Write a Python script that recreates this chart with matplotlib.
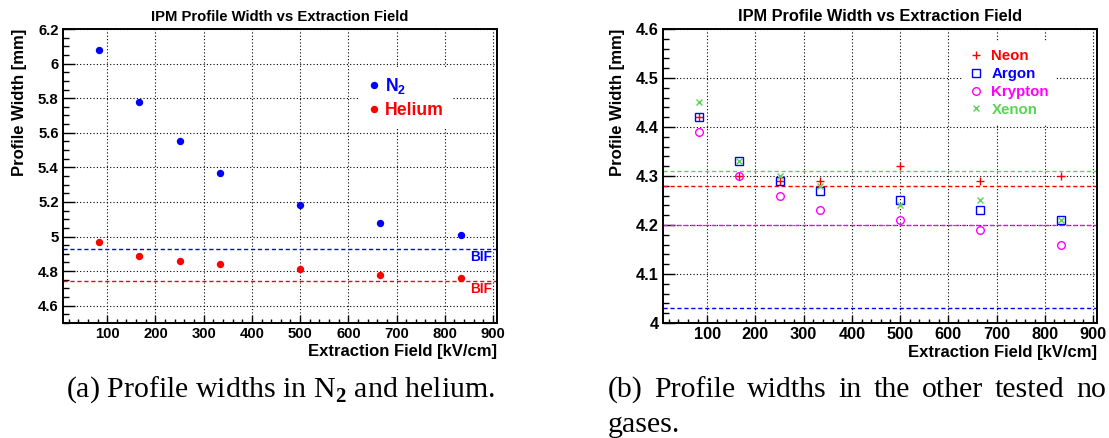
import numpy as np
import matplotlib.pyplot as plt
from matplotlib.ticker import MultipleLocator, FuncFormatter

# --- フォント設定 ---
plt.rcParams['font.family'] = ['Liberation Sans', 'DejaVu Sans']
plt.rcParams['font.weight'] = 'bold'
plt.rcParams['mathtext.fontset'] = 'custom'
plt.rcParams['mathtext.rm'] = 'Liberation Serif'
plt.rcParams['mathtext.bf'] = 'Liberation Sans:bold'

# --- データ ---
# 引き出し電場 [kV/cm]
field = [83.33, 166.67, 250.0, 333.33, 500.0, 666.67, 833.33]

# (a) N2 と Helium のプロファイル幅 [mm]
width_n2 = [6.08, 5.78, 5.55, 5.37, 5.18, 5.08, 5.01]
width_he = [4.97, 4.89, 4.86, 4.84, 4.81, 4.78, 4.76]
bif_n2 = 4.93
bif_he = 4.74

# (b) その他の希ガス
width_ne = [4.42, 4.30, 4.29, 4.29, 4.32, 4.29, 4.30]
width_ar = [4.42, 4.33, 4.29, 4.27, 4.25, 4.23, 4.21]
width_kr = [4.39, 4.30, 4.26, 4.23, 4.21, 4.19, 4.16]
width_xe = [4.45, 4.33, 4.30, 4.28, 4.24, 4.25, 4.21]
bif_ne, bif_ar, bif_kr, bif_xe = 4.28, 4.03, 4.20, 4.31

green = '#59d454'

# --- レイアウト (ピクセル単位) ---
W, H = 1109, 438
fig = plt.figure(figsize=(W / 100, H / 100), dpi=100)


def px_axes(x0, x1, y0, y1):
    return fig.add_axes([x0 / W, 1 - y1 / H, (x1 - x0) / W, (y1 - y0) / H])


def style(ax, ylim, ymajor, yminor, tsize):
    ax.set_xlim(8.33, 908.33)
    ax.set_ylim(*ylim)
    ax.xaxis.set_major_locator(MultipleLocator(100))
    ax.xaxis.set_minor_locator(MultipleLocator(20))
    ax.yaxis.set_major_locator(MultipleLocator(ymajor))
    ax.yaxis.set_minor_locator(MultipleLocator(yminor))
    ax.yaxis.set_major_formatter(FuncFormatter(lambda v, p: '%g' % round(v, 3)))
    ax.grid(True, which='major', color='black', linestyle=(0, (1, 2)), linewidth=0.8)
    ax.tick_params(which='both', direction='in', top=False, right=False, width=1)
    ax.tick_params(axis='y', which='major', length=8.5, pad=3, labelsize=tsize)
    ax.tick_params(axis='y', which='minor', length=4.5)
    ax.tick_params(axis='x', which='major', length=6, pad=3, labelsize=tsize)
    ax.tick_params(axis='x', which='minor', length=3)
    for s in ax.spines.values():
        s.set_linewidth(1.4)
    ax.set_title('IPM Profile Width vs Extraction Field', fontsize=tsize,
                 fontweight='bold', pad=6)
    ax.set_xlabel('Extraction Field [kV/cm]', loc='right', fontsize=12,
                  fontweight='bold', labelpad=2)
    ax.set_ylabel('Profile Width [mm]', loc='top', fontsize=12,
                  fontweight='bold', labelpad=8)


# (a) 左パネル
axL = px_axes(63, 497, 29, 323)
style(axL, (4.5, 6.2), 0.2, 0.05, 10.7)
axL.axhline(bif_n2, color='blue', linestyle=(0, (3, 2)), linewidth=1)
axL.axhline(bif_he, color='red', linestyle=(0, (3, 2)), linewidth=1)
axL.plot(field, width_n2, 'o', color='blue', markersize=4.3, label=r'$\mathbf{N_2}$', zorder=3)
axL.plot(field, width_he, 'o', color='red', markersize=4.3, label='Helium', zorder=3)
axL.legend(loc='upper left', bbox_to_anchor=(0.684, 0.871), borderaxespad=0,
           prop={'weight': 'bold', 'size': 12.7}, labelcolor=['blue', 'red'],
           handlelength=0.6, handletextpad=0.3, labelspacing=0.35, borderpad=0.5,
           frameon=True, fancybox=False, framealpha=1, edgecolor='none')
fig.text(492 / W, 1 - 257 / H, 'BIF', color='blue', fontsize=9.8, ha='right', va='center')
fig.text(492 / W, 1 - 289 / H, 'BIF', color='red', fontsize=9.8, ha='right', va='center')

# (b) 右パネル
axR = px_axes(663, 1097, 29, 323)
style(axR, (4.0, 4.6), 0.1, 0.02, 11.8)
axR.axhline(bif_xe, color=green, linestyle=(0, (3, 2)), linewidth=1)
axR.axhline(bif_ne, color='red', linestyle=(0, (3, 2)), linewidth=1)
axR.axhline(bif_kr, color='magenta', linestyle=(0, (3, 2)), linewidth=1)
axR.axhline(bif_ar, color='blue', linestyle=(0, (3, 2)), linewidth=1)
axR.plot(field, width_ne, '+', color='red', markersize=6, mew=1, label='Neon', zorder=3)
axR.plot(field, width_ar, 's', mfc='none', mec='blue', markersize=5.5, mew=1, label='Argon', zorder=3)
axR.plot(field, width_kr, 'o', mfc='none', mec='magenta', markersize=5.5, mew=1, label='Krypton', zorder=3)
axR.plot(field, width_xe, 'x', color=green, markersize=5, mew=1, label='Xenon', zorder=3)
axR.legend(loc='upper left', bbox_to_anchor=(0.691, 0.956), borderaxespad=0,
           prop={'weight': 'bold', 'size': 10.8},
           labelcolor=['red', 'blue', 'magenta', green],
           handlelength=0.8, handletextpad=0.6, labelspacing=0.25, borderpad=0.5,
           frameon=True, fancybox=False, framealpha=1, edgecolor='none')

# --- キャプション ---
cap = dict(family=['Liberation Serif', 'DejaVu Serif'], fontweight='normal', fontsize=21.5,
           va='center', ha='left')
fig.text(66 / W, 1 - 390 / H, r'(a) Profile widths in N$_2$ and helium.', **cap)

# (b) は両端揃え: 単語ごとに置いて間隔を均等にする
words_b = ['(b)', 'Profile', 'widths', 'in', 'the', 'other', 'tested', 'no']
renderer = fig.canvas.get_renderer()
texts_b = [fig.text(0, 1 - 390 / H, w, **cap) for w in words_b]
wds = [t.get_window_extent(renderer).width for t in texts_b]
x0, x1 = 608, 1106
gap = (x1 - x0 - sum(wds)) / (len(words_b) - 1)
x = x0
for t, wd in zip(texts_b, wds):
    t.set_x(x / W)
    x += wd + gap
fig.text(608 / W, 1 - 425 / H, 'gases.', **cap)

fig.savefig('out.png', dpi=100)
